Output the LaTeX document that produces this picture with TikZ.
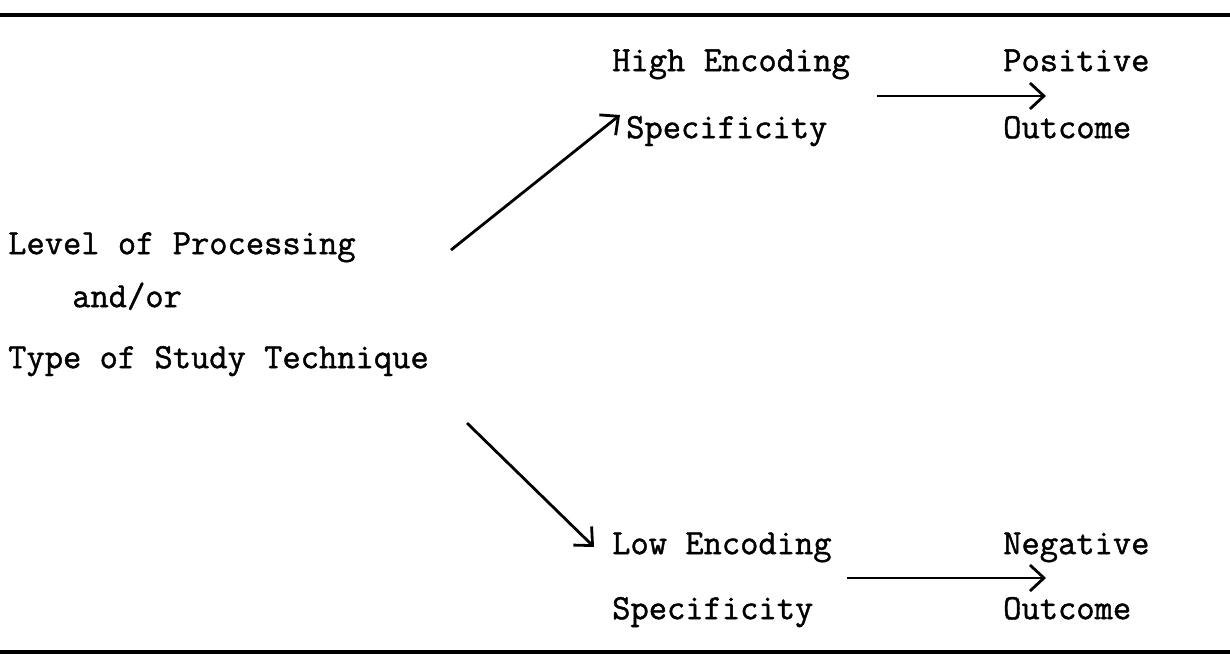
\documentclass[tikz,border=0pt]{standalone}
\usepackage{fontspec}
\newfontfamily\twfont[FakeBold=1.2]{Latin Modern Mono}
\usetikzlibrary{arrows.meta}
\begin{document}
\begin{tikzpicture}[x=1pt,y=-1pt,
  lbl/.style={anchor=mid west,inner sep=0pt,font=\fontsize{35.5}{40}\selectfont\twfont},
  conn/.style={line width=2.8pt,-{Straight Barb[length=14pt,width=26pt,line width=2.8pt]}},
  rule/.style={line width=3.5pt}]
\useasboundingbox (0,0) rectangle (1230,669);
\fill[white] (0,0) rectangle (1230,669);
% rules
\coordinate (r1a) at (0,15);   \coordinate (r1b) at (1230,15);
\coordinate (r2a) at (0,652);  \coordinate (r2b) at (1230,652);
\draw[rule] (r1a) -- (r1b);
\draw[rule] (r2a) -- (r2b);
% texts
\node[lbl] (he)  at (612,69)  {High Encoding};
\node[lbl] (hs)  at (626,136) {Specificity};
\node[lbl] (po)  at (1003,69) {Positive};
\node[lbl] (poo) at (1003,136){Outcome};
\node[lbl] (lp)  at (8,252)   {Level of Processing};
\node[lbl] (ao)  at (72,305)  {and/or};
\node[lbl] (ts)  at (8,366)   {Type of Study Technique};
\node[lbl] (le)  at (612,552) {Low Encoding};
\node[lbl] (ls)  at (612,617) {Specificity};
\node[lbl] (ne)  at (1003,552){Negative};
\node[lbl] (neo) at (1003,617){Outcome};
% connector end points
\coordinate (a1s) at (451,250); \coordinate (a1e) at (620,115);
\coordinate (a2s) at (877,96);  \coordinate (a2e) at (1046,96);
\coordinate (a3s) at (467,423); \coordinate (a3e) at (594,547);
\coordinate (a4s) at (847,578); \coordinate (a4e) at (1046,578);
\draw[conn] (a1s) -- (a1e);
\draw[conn] (a2s) -- (a2e);
\draw[conn] (a3s) -- (a3e);
\draw[conn] (a4s) -- (a4e);
\end{tikzpicture}
\end{document}
